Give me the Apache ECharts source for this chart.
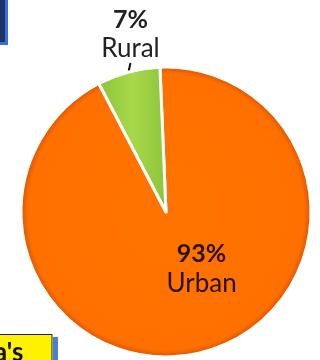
<!DOCTYPE html>
<html>
<head>
<meta charset="utf-8">
<script src="https://cdn.jsdelivr.net/npm/echarts@6/dist/echarts.min.js"></script>
<style>
  html, body { margin: 0; padding: 0; background: #fff; }
  #chart { width: 320px; height: 360px; }
</style>
</head>
<body>
<div id="chart"></div>
<script>
// population split
const categories = ['Urban', 'Rural'];
const shares = [93, 7];

const chart = echarts.init(document.getElementById('chart'));

const urbanFill = new echarts.graphic.RadialGradient(0.5, 0.5, 0.5, [
  { offset: 0, color: '#ff7400' },
  { offset: 0.94, color: '#ff7000' },
  { offset: 0.975, color: '#e65e00' },
  { offset: 1, color: '#c44f00' }
]);
const ruralFill = new echarts.graphic.LinearGradient(0, 0, 1, 0, [
  { offset: 0, color: '#8cc43a' },
  { offset: 0.5, color: '#a8d84a' },
  { offset: 1, color: '#8cc43a' }
]);

const labelFont = {
  fontFamily: 'Lato',
  fontSize: 26,
  lineHeight: 29,
  formatter: p => '{b|' + p.value + '%}\n' + p.name,
  rich: { b: { fontWeight: 'bold', fontSize: 25, fontFamily: 'Lato', lineHeight: 29 } }
};

// slices + urban label
const slices = categories.map((name, i) => ({
  name: name,
  value: shares[i],
  itemStyle: { color: i === 0 ? urbanFill : ruralFill },
  label: i === 0
    ? { show: true, position: 'inside', offset: [16, -16], color: '#2a1200' }
    : { show: false }
}));

// same values again, transparent, so the rural leader line sits above the slices
const overlay = categories.map((name, i) => ({
  name: name,
  value: shares[i],
  label: { show: i === 1, position: 'outside', color: '#222' },
  labelLine: { show: i === 1 }
}));

chart.setOption({
  animation: false,
  graphic: [
    // cut-off boxes at the page edges
    { type: 'rect', shape: { x: 0, y: 0, width: 8, height: 45 },
      style: { fill: '#3a6fd8' } },
    { type: 'rect', shape: { x: 0, y: 0, width: 5, height: 42 },
      style: { fill: '#1c3468' } },
    { type: 'rect', shape: { x: 53, y: 337, width: 5, height: 30 },
      style: { fill: '#4a7fd8' } },
    { type: 'rect', shape: { x: -2, y: 334.5, width: 54, height: 30 },
      style: { fill: '#fff200', stroke: '#222', lineWidth: 1 } },
    { type: 'text', x: -6, y: 366, style: {
        text: "a's", fill: '#111', font: 'bold 26px Lato', textVerticalAlign: 'bottom'
      } }
  ],
  series: [{
    type: 'pie',
    center: [166, 212],
    radius: 145,
    startAngle: 92.4,
    clockwise: true,
    silent: true,
    itemStyle: { borderColor: '#fff', borderWidth: 3 },
    label: labelFont,
    labelLine: { show: false },
    data: slices
  }, {
    type: 'pie',
    center: [166, 212],
    radius: 145,
    startAngle: 92.4,
    clockwise: true,
    silent: true,
    itemStyle: { color: 'rgba(0,0,0,0)', borderWidth: 0 },
    label: labelFont,
    labelLine: {
      length: 6,
      length2: 0,
      lineStyle: { color: '#111', width: 2 }
    },
    labelLayout: params => {
      if (params.dataIndex !== 1) return {};
      // centre the rural label above its slice; the leader line is redrawn to meet it
      const edge = params.labelLinePoints[0];
      return {
        x: edge[0] + 2,
        y: edge[1] - 9,
        align: 'center',
        verticalAlign: 'bottom'
      };
    },
    data: overlay
  }]
});
</script>
</body>
</html>
